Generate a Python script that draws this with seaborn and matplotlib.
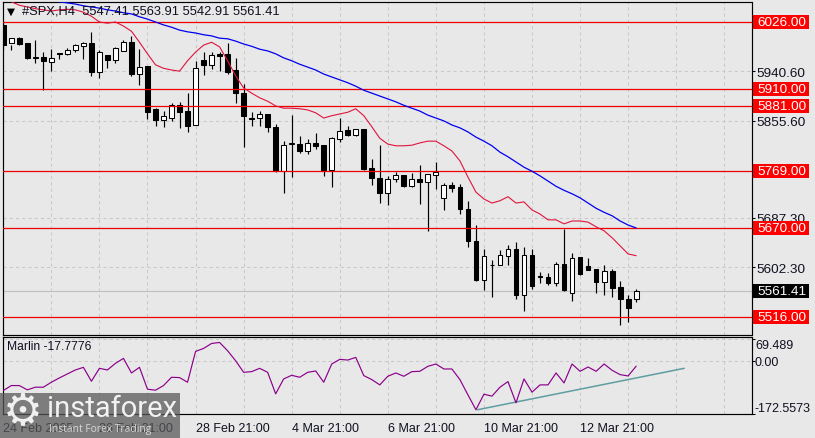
import numpy as np
import pandas as pd
import seaborn as sns
import matplotlib.pyplot as plt
from matplotlib.patches import Rectangle

# candles, one entry per bar
opens = [6021, 5990, 5998, 5990, 5964, 5965, 5957, 5972, 5971, 5978, 5984, 5990, 5940, 5969, 5960, 5976,
         5991, 5936, 5950, 5876, 5857, 5860, 5882, 5872, 5848, 5960, 5952, 5971, 5971, 5943, 5903, 5860,
         5860, 5867, 5845, 5768, 5815, 5815, 5803, 5817, 5813, 5770, 5824, 5839, 5831, 5841, 5774, 5756,
         5730, 5755, 5761, 5742, 5755, 5749, 5761, 5722, 5744, 5741, 5703, 5647, 5580, 5606, 5606, 5622,
         5634, 5554, 5623, 5587, 5585, 5575, 5608, 5558, 5620, 5604, 5599, 5576, 5596, 5568, 5547, 5547]
highs = [6026, 5986, 6000, 5990, 5995, 5974, 5979, 5972, 5981, 5988, 5991, 6009, 5978, 5969, 5983, 5995,
         6002, 5979, 5950, 5877, 5872, 5886, 5888, 5903, 5959, 5974, 5974, 5974, 5990, 5964, 5919, 5870,
         5872, 5867, 5850, 5820, 5865, 5829, 5824, 5834, 5813, 5827, 5860, 5846, 5841, 5841, 5789, 5813,
         5760, 5767, 5761, 5765, 5779, 5763, 5784, 5748, 5749, 5746, 5717, 5675, 5634, 5615, 5632, 5640,
         5646, 5637, 5634, 5594, 5592, 5611, 5668, 5627, 5620, 5618, 5599, 5606, 5599, 5578, 5554, 5564]
lows = [5978, 5978, 5986, 5962, 5955, 5908, 5941, 5962, 5969, 5974, 5962, 5933, 5929, 5946, 5955, 5976,
        5933, 5917, 5858, 5846, 5845, 5855, 5843, 5836, 5848, 5934, 5945, 5941, 5936, 5886, 5810, 5846,
        5846, 5836, 5767, 5730, 5758, 5800, 5798, 5807, 5760, 5741, 5819, 5829, 5829, 5770, 5744, 5713,
        5710, 5749, 5741, 5741, 5711, 5665, 5737, 5701, 5732, 5694, 5637, 5578, 5563, 5551, 5606, 5606,
        5547, 5526, 5564, 5575, 5571, 5570, 5561, 5544, 5589, 5597, 5557, 5554, 5551, 5502, 5507, 5542]
closes = [5986, 5998, 5988, 5964, 5965, 5959, 5964, 5971, 5978, 5986, 5990, 5940, 5974, 5960, 5981, 5991,
          5936, 5948, 5870, 5857, 5864, 5882, 5870, 5846, 5946, 5952, 5969, 5967, 5940, 5903, 5864, 5858,
          5867, 5845, 5768, 5813, 5817, 5803, 5817, 5812, 5770, 5825, 5838, 5831, 5841, 5772, 5756, 5730,
          5755, 5761, 5742, 5755, 5749, 5763, 5767, 5744, 5739, 5703, 5647, 5580, 5622, 5606, 5623, 5634,
          5554, 5623, 5570, 5585, 5575, 5608, 5563, 5618, 5590, 5597, 5576, 5596, 5566, 5547, 5532, 5561.41]

# moving averages, both start a few bars in
ma_red = [6061, 6055, 6052, 6049, 6047, 6045, 6047, 6048, 6047, 6043, 6036, 6026, 6024, 6026, 6019, 6010,
          5991, 5971, 5952, 5946, 5943, 5941, 5959, 5974, 5986, 5991, 5983, 5959, 5933, 5912, 5903, 5895,
          5889, 5881, 5877, 5877, 5876, 5874, 5869, 5860, 5864, 5867, 5870, 5876, 5864, 5845, 5825, 5815,
          5812, 5812, 5813, 5817, 5820, 5820, 5812, 5803, 5786, 5758, 5732, 5720, 5713, 5717, 5724, 5713,
          5715, 5701, 5694, 5684, 5684, 5677, 5682, 5682, 5680, 5672, 5665, 5653, 5639, 5625, 5622]
ma_blue = [6061, 6059, 6057, 6054, 6052, 6050, 6047, 6045, 6042, 6040, 6035, 6031, 6026, 6021, 6017, 6012,
           6009, 6007, 6004, 6002, 5998, 5997, 5993, 5988, 5984, 5979, 5976, 5971, 5964, 5959, 5953, 5948,
           5943, 5936, 5931, 5926, 5921, 5915, 5908, 5903, 5898, 5893, 5888, 5882, 5877, 5872, 5865, 5860,
           5855, 5848, 5843, 5836, 5827, 5820, 5812, 5801, 5793, 5784, 5775, 5768, 5760, 5751, 5742, 5735,
           5729, 5722, 5713, 5704, 5697, 5691, 5682, 5675, 5670]

marlin = [-96.6, -80.5, -80.5, -94.4, -85.8, -85.8, -69.7, -55.8, -42.9, -30, -21.5, -66.5, -24.7, -30,
          -8.6, 7.5, -39.7, -21.5, -92.3, -95.5, -80.5, -53.7, -54.7, -69.7, 30, 39.7, 55.8, 59, 32.2, 0,
          -37.6, -35.4, -24.7, -37.6, -107.3, -59, -47.2, -53.7, -37.6, -33.3, -69.7, -10.7, 4.3, 2.1,
          10.7, -48.3, -61.2, -78.3, -50.4, -39.7, -50.4, -35.4, -34.3, -18.2, -10.7, -26.8, -26.8, -61.2,
          -110.5, -158.8, -108.4, -114.8, -85.8, -67.6, -136.3, -59, -101.9, -78.3, -78.3, -39.7, -71.9,
          -10.7, -34.3, -20.4, -34.3, -10.7, -31.1, -45.1, -49.4, -17.8]
trend_x = [59.2, 85]
trend_y = [-158.8, -24.7]

levels = [6026, 5910, 5881, 5769, 5670, 5516]
last_price = 5561.41
price_ticks = [5940.60, 5855.60, 5687.30, 5602.30]
marlin_ticks = [69.489, 0, -172.5573]
date_ticks = [0, 12, 24, 36, 48, 60, 72]
date_labels = ["24 Feb 2025", "26 Feb 21:00", "28 Feb 21:00", "4 Mar 21:00", "6 Mar 21:00", "10 Mar 21:00", "12 Mar 21:00"]

W, H = 815, 439
BG = "#e8e8e8"

sns.set_theme(style="white")
plt.rcParams["font.family"] = ["Liberation Sans", "DejaVu Sans"]
plt.rcParams["font.size"] = 9

bars = np.arange(len(closes))
df = pd.DataFrame({"bar": bars, "open": opens, "high": highs, "low": lows, "close": closes, "marlin": marlin})
df["red"] = [np.nan] * (len(df) - len(ma_red)) + ma_red
df["blue"] = [np.nan] * (len(df) - len(ma_blue)) + ma_blue

fig = plt.figure(figsize=(W / 100, H / 100), dpi=100, facecolor=BG)


def px_axes(left, top, right, bottom):
    return fig.add_axes([left / W, 1 - bottom / H, (right - left) / W, (bottom - top) / H], facecolor=BG)


ax = px_axes(2.5, 2.7, 751.5, 336)
ax2 = px_axes(2.5, 338, 751.5, 415)

for a in (ax, ax2):
    a.set_xlim(-0.1, 93.4)
    a.set_axisbelow(True)
    a.yaxis.tick_right()
    a.set_xticks(date_ticks)
    a.set_xticks([i for i in range(6, 94, 6) if i not in date_ticks], minor=True)
    a.grid(True, which="both", color="#c8c8c8", linestyle=(0, (3, 3)), linewidth=0.75)
    for s in a.spines.values():
        s.set_color("black")
        s.set_linewidth(0.85)
    a.tick_params(axis="x", which="minor", length=0)
    a.tick_params(axis="both", which="major", length=2, width=0.75, color="black", labelcolor="#101020")

# price panel
ax.set_ylim(5484.9, 6061.1)
ax.set_yticks(price_ticks)
ax.set_yticklabels([f"{v:.2f}" for v in price_ticks], fontsize=9.7)
ax.tick_params(axis="y", pad=1.9)
ax.set_xticklabels([])
ax.tick_params(axis="x", which="major", length=0)

ax.axhline(last_price, color="#c0c0c0", linewidth=0.8, zorder=1)
for lv in levels:
    ax.axhline(lv, color="#f00000", linewidth=0.9, zorder=4)

ax.vlines(df["bar"], df["low"], df["high"], color="black", linewidth=0.85, zorder=2)
up = df[df["close"] >= df["open"]]
down = df[df["close"] < df["open"]]
ax.bar(down["bar"], down["close"] - down["open"], bottom=down["open"], width=0.6, color="black", edgecolor="black", linewidth=0.75, zorder=3)
ax.bar(up["bar"], up["close"] - up["open"], bottom=up["open"], width=0.6, color="white", edgecolor="black", linewidth=0.75, zorder=3)

sns.lineplot(data=df, x="bar", y="red", ax=ax, color="#e0143c", linewidth=0.8, zorder=5)
sns.lineplot(data=df, x="bar", y="blue", ax=ax, color="#0000f0", linewidth=0.9, zorder=5)
ax.set_xlabel("")
ax.set_ylabel("")

# level flags on the price scale
for lv, fc in [(v, "#ff0000") for v in levels] + [(last_price, "black")]:
    ax.add_patch(Rectangle((1.002, lv - 12), 0.0748, 24, transform=ax.get_yaxis_transform(), facecolor=fc, edgecolor="none", clip_on=False, zorder=6))
    ax.text(1.0075, lv, f"{lv:.2f}", transform=ax.get_yaxis_transform(), color="white", fontsize=9.7, va="center", ha="left", clip_on=False, zorder=7)

ax.text(0.006, 0.973, "\u25bc", transform=ax.transAxes, fontsize=7.5, color="black", va="center", family="DejaVu Sans", zorder=8)
ax.text(0.026, 0.973, "#SPX,H4  5547.41 5563.91 5542.91 5561.41", transform=ax.transAxes, fontsize=9.3, color="#101020", va="center", zorder=8)

# indicator panel
ax2.set_ylim(-172.5573, 76.7)
sns.lineplot(data=df, x="bar", y="marlin", ax=ax2, color="#8b008b", linewidth=0.85, zorder=4)
sns.lineplot(x=trend_x, y=trend_y, ax=ax2, color="#5f9ea0", linewidth=1.1, zorder=3)
ax2.set_xlabel("")
ax2.set_ylabel("")
ax2.set_yticks(marlin_ticks)
labels = ax2.set_yticklabels(["69.489", "0.00", "-172.5573"], fontsize=9)
labels[0].set_va("top")
labels[2].set_va("bottom")
ax2.tick_params(axis="y", pad=0.5)
ax2.set_xticklabels(date_labels, fontsize=9, ha="left")
ax2.tick_params(axis="x", which="major", length=2, pad=4)
ax2.text(0.006, 0.88, "Marlin -17.7776", transform=ax2.transAxes, fontsize=8.7, color="#101020", va="center", zorder=8)

# broker watermark
fig.add_artist(Rectangle((0, 0), 180 / W, 45 / H, transform=fig.transFigure, facecolor="#585858", alpha=0.745, edgecolor="none"))
fig.text(23 / W, 1 - 412 / H, "\u2699", color="#f0f0f0", fontsize=32, ha="center", va="center", family="DejaVu Sans")
fig.text(47 / W, 1 - 409 / H, "instaforex", color="#f2f2f2", fontsize=21, ha="left", va="center", family="Roboto")
fig.text(49 / W, 1 - 430 / H, "Instant Forex Trading", color="#d8d8d8", fontsize=7.4, ha="left", va="center", family="Open Sans")

fig.savefig("out.png", dpi=100, facecolor=BG)
